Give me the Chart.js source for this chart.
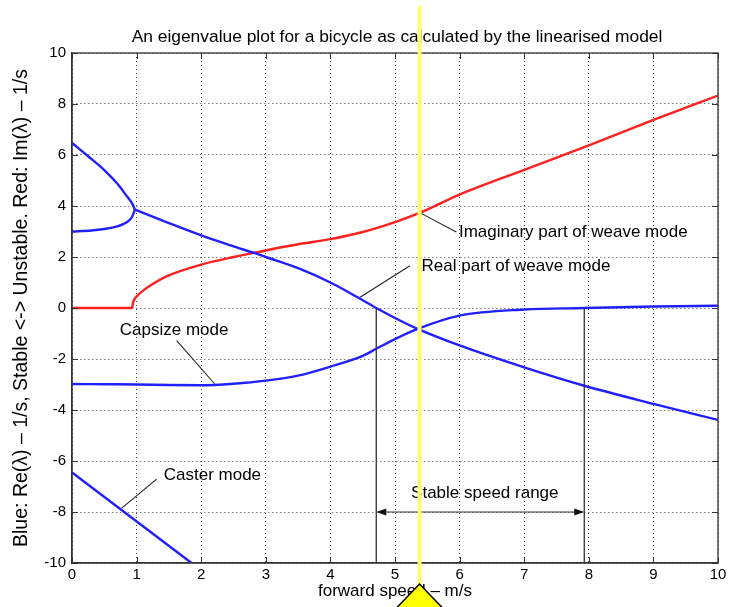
<!DOCTYPE html>
<html>
<head>
<meta charset="utf-8">
<script src="https://cdn.jsdelivr.net/npm/chart.js@4/dist/chart.umd.min.js"></script>
<style>
  html, body { margin: 0; padding: 0; background: #ffffff; }
  canvas { display: block; }
</style>
</head>
<body>
<canvas id="eig" width="751" height="607"></canvas>
<script>
// Forward speed (m/s) and eigenvalue components (1/s) of the linearised bicycle model.

// Weave mode, real part: two real roots below the split speed...
const weaveUpperSpeed = [0, 0.25, 0.5, 0.7, 0.85, 0.93, 0.975];
const weaveUpperRe    = [6.47, 5.95, 5.41, 4.88, 4.38, 4.1, 3.86];
const weaveLowerSpeed = [0, 0.3, 0.5, 0.7, 0.8, 0.88, 0.93, 0.975];
const weaveLowerRe    = [3.0, 3.04, 3.1, 3.2, 3.3, 3.43, 3.58, 3.86];
// ...then one complex pair above it
const weaveSpeed = [0.975, 1.5, 2.0, 2.5, 2.83, 3.0, 3.5, 4.0, 4.35, 4.71, 5.0, 5.35, 6, 7, 7.93, 9, 10];
const weaveRe    = [3.86, 3.33, 2.85, 2.42, 2.15, 2.0, 1.56, 1.0, 0.52, 0.0, -0.39, -0.82, -1.47, -2.33, -3.05, -3.76, -4.39];

// Weave mode, imaginary part
const weaveImZeroSpeed = [0, 0.93];
const weaveImZero      = [0, 0];
const weaveImSpeed = [0.93, 0.95, 1.0, 1.1, 1.2, 1.47, 2.0, 2.5, 2.83, 3.5, 4.0, 4.5, 5.0, 5.38, 6, 7, 8, 9, 10];
const weaveIm      = [0, 0.25, 0.45, 0.68, 0.86, 1.25, 1.7, 2.0, 2.17, 2.5, 2.7, 2.98, 3.37, 3.73, 4.45, 5.42, 6.38, 7.38, 8.33];

// Capsize mode
const capsizeSpeed = [0, 0.5, 1, 1.5, 2, 2.5, 3, 3.5, 4, 4.5, 4.71, 5, 5.35, 6, 7, 7.93, 9, 10];
const capsizeRe    = [-2.98, -2.99, -3.0, -3.02, -3.03, -2.97, -2.85, -2.65, -2.3, -1.88, -1.6, -1.22, -0.82, -0.3, -0.06, 0.0, 0.06, 0.09];

// Caster mode
const casterSpeed = [0, 1.85];
const casterRe    = [-6.45, -10];

// Axis ticks
const speedTicks = [0, 1, 2, 3, 4, 5, 6, 7, 8, 9, 10];
const valueTicks = [-10, -8, -6, -4, -2, 0, 2, 4, 6, 8, 10];

// Stable speed range bounds and the highlighted speed
const stableLow = 4.71;
const stableHigh = 7.93;
const markedSpeed = 5.38;

const FONT = '"Liberation Sans", Arial, Helvetica, sans-serif';
const BLUE = '#2020ff';
const RED = '#ff2020';

const pts = (xs, ys) => xs.map((v, i) => ({ x: v, y: ys[i] }));
const curve = (label, xs, ys, color) => ({
  label,
  data: pts(xs, ys),
  borderColor: color,
  borderWidth: 2.4,
  pointRadius: 0,
  fill: false,
  cubicInterpolationMode: 'monotone'
});

// Callout labels with leader lines, in data coordinates
const callouts = [
  { text: 'Imaginary part of weave mode', at: [5.99, 2.98], line: [[5.39, 3.73], [5.95, 2.98]] },
  { text: 'Real part of weave mode',      at: [5.41, 1.63], line: [[4.46, 0.42], [5.23, 1.66]] },
  { text: 'Capsize mode',                 at: [0.74, -0.86], line: [[2.21, -2.98], [1.62, -1.28]] },
  { text: 'Caster mode',                  at: [1.42, -6.58], line: [[0.77, -7.85], [1.31, -6.71]] }
];

const decor = {
  id: 'decor',
  afterDraw(chart) {
    const { ctx, chartArea: a, scales: { x, y } } = chart;
    ctx.save();

    // frame and inward tick marks on all four sides
    ctx.strokeStyle = '#333';
    ctx.lineWidth = 1.3;
    ctx.strokeRect(a.left, a.top, a.right - a.left, a.bottom - a.top);
    ctx.lineWidth = 1;
    ctx.beginPath();
    x.ticks.forEach(t => {
      const px = Math.round(x.getPixelForValue(t.value)) + 0.5;
      ctx.moveTo(px, a.bottom); ctx.lineTo(px, a.bottom - 6);
      ctx.moveTo(px, a.top); ctx.lineTo(px, a.top + 6);
    });
    y.ticks.forEach(t => {
      const py = Math.round(y.getPixelForValue(t.value)) + 0.5;
      ctx.moveTo(a.left, py); ctx.lineTo(a.left + 6, py);
      ctx.moveTo(a.right, py); ctx.lineTo(a.right - 6, py);
    });
    ctx.stroke();

    // title
    ctx.fillStyle = '#000';
    ctx.font = '17.4px ' + FONT;
    ctx.textAlign = 'center';
    ctx.textBaseline = 'middle';
    ctx.fillText('An eigenvalue plot for a bicycle as calculated by the linearised model',
      (a.left + a.right) / 2 + 2, 37);

    // callouts
    ctx.font = '17px ' + FONT;
    ctx.strokeStyle = '#222';
    ctx.lineWidth = 1.1;
    ctx.textAlign = 'left';
    callouts.forEach(c => {
      ctx.beginPath();
      ctx.moveTo(x.getPixelForValue(c.line[0][0]), y.getPixelForValue(c.line[0][1]));
      ctx.lineTo(x.getPixelForValue(c.line[1][0]), y.getPixelForValue(c.line[1][1]));
      ctx.stroke();
      ctx.fillText(c.text, x.getPixelForValue(c.at[0]), y.getPixelForValue(c.at[1]));
    });

    // stable speed range
    const xl = x.getPixelForValue(stableLow);
    const xh = x.getPixelForValue(stableHigh);
    const ya = y.getPixelForValue(-8);
    ctx.strokeStyle = '#333';
    ctx.lineWidth = 1.3;
    ctx.beginPath();
    ctx.moveTo(xl, y.getPixelForValue(0)); ctx.lineTo(xl, a.bottom);
    ctx.moveTo(xh, y.getPixelForValue(0)); ctx.lineTo(xh, a.bottom);
    ctx.stroke();
    ctx.lineWidth = 1.1;
    ctx.beginPath();
    ctx.moveTo(xl + 6, ya); ctx.lineTo(xh - 6, ya);
    ctx.stroke();
    ctx.fillStyle = '#111';
    ctx.beginPath();
    ctx.moveTo(xl, ya); ctx.lineTo(xl + 10, ya - 3.5); ctx.lineTo(xl + 10, ya + 3.5); ctx.closePath();
    ctx.moveTo(xh, ya); ctx.lineTo(xh - 10, ya - 3.5); ctx.lineTo(xh - 10, ya + 3.5); ctx.closePath();
    ctx.fill();
    ctx.fillStyle = '#000';
    ctx.textAlign = 'center';
    ctx.fillText('Stable speed range', x.getPixelForValue(6.39), y.getPixelForValue(-7.25));

    // highlighted speed: vertical marker and pointer
    const xm = x.getPixelForValue(markedSpeed);
    ctx.strokeStyle = '#ffff70';
    ctx.lineWidth = 4;
    ctx.beginPath();
    ctx.moveTo(xm, 6); ctx.lineTo(xm, 586);
    ctx.stroke();
    ctx.fillStyle = '#ffff00';
    ctx.strokeStyle = '#000';
    ctx.lineWidth = 1.5;
    ctx.beginPath();
    ctx.moveTo(xm, 584); ctx.lineTo(xm - 25, 610); ctx.lineTo(xm + 25, 610); ctx.closePath();
    ctx.fill();
    ctx.stroke();

    ctx.restore();
  }
};

Chart.defaults.font.family = FONT;
Chart.defaults.color = '#000';

new Chart(document.getElementById('eig'), {
  type: 'line',
  data: {
    datasets: [
      curve('Weave Re (branch 1)', weaveUpperSpeed, weaveUpperRe, BLUE),
      curve('Weave Re (branch 2)', weaveLowerSpeed, weaveLowerRe, BLUE),
      curve('Weave Re', weaveSpeed, weaveRe, BLUE),
      curve('Capsize', capsizeSpeed, capsizeRe, BLUE),
      curve('Caster', casterSpeed, casterRe, BLUE),
      curve('Weave Im (real roots)', weaveImZeroSpeed, weaveImZero, RED),
      curve('Weave Im', weaveImSpeed, weaveIm, RED)
    ]
  },
  options: {
    responsive: false,
    animation: false,
    devicePixelRatio: 1,
    layout: { padding: { top: 53, right: 33, left: 0, bottom: 0 } },
    plugins: { legend: { display: false }, tooltip: { enabled: false }, title: { display: false } },
    scales: {
      x: {
        type: 'linear', min: 0, max: 10,
        afterBuildTicks: s => { s.ticks = speedTicks.map(v => ({ value: v })); },
        ticks: { font: { size: 15 }, padding: 3, maxRotation: 0, color: '#000' },
        grid: { color: '#444', lineWidth: 1, drawTicks: false },
        border: { display: true, color: '#333', width: 1.3, dash: [1, 3] },
        title: { display: true, text: 'forward speed – m/s', font: { size: 17 }, color: '#000', padding: { top: 0, bottom: 5 } },
        afterFit: s => { s.height = 44; }
      },
      y: {
        type: 'linear', min: -10, max: 10,
        afterBuildTicks: s => { s.ticks = valueTicks.map(v => ({ value: v })); },
        ticks: { font: { size: 15 }, padding: 6, color: '#000' },
        grid: { color: '#444', lineWidth: 1, drawTicks: false },
        border: { display: true, color: '#333', width: 1.3, dash: [1, 3] },
        title: { display: true, text: 'Blue: Re(λ) – 1/s, Stable <-> Unstable. Red: Im(λ) – 1/s', font: { size: 19.5 }, color: '#000', padding: { top: 10, bottom: 0 } },
        afterFit: s => { s.width = 72; }
      }
    }
  },
  plugins: [decor]
});
</script>
</body>
</html>
